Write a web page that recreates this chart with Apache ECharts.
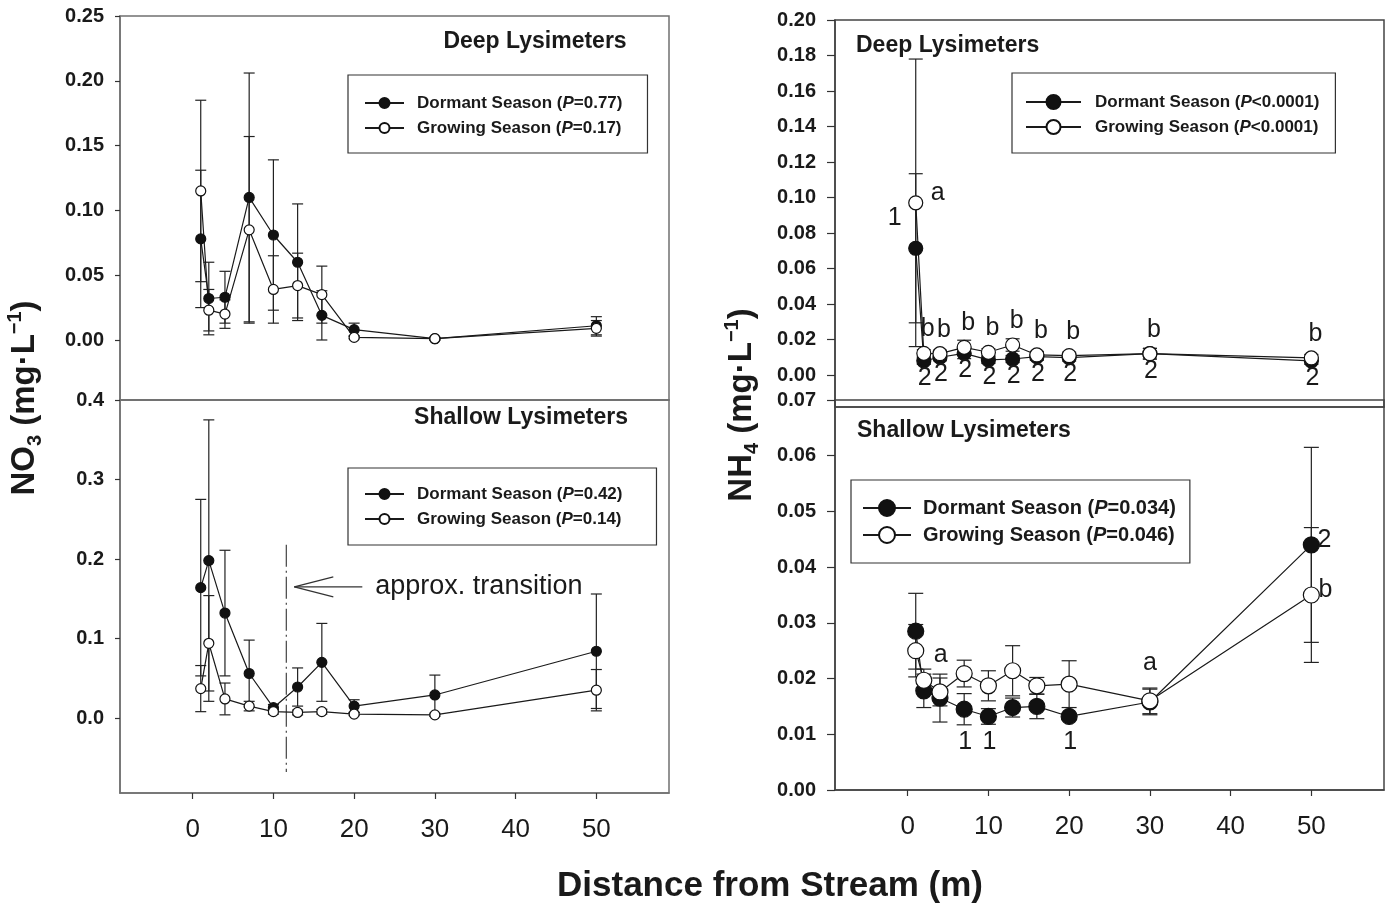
<!DOCTYPE html>
<html><head><meta charset="utf-8">
<script src="https://cdn.jsdelivr.net/npm/echarts@6/dist/echarts.min.js"></script>
<style>html,body{margin:0;padding:0;background:#fff}#c{width:1387px;height:909px}</style>
</head><body><div id="c"></div>
<script>
// ---------- data ----------
const distance = [1, 2, 4, 7, 10, 13, 16, 20, 30, 50];
const xTicks = [0, 10, 20, 30, 40, 50];
const no3DeepTicks = [0, 0.05, 0.10, 0.15, 0.20, 0.25];
const no3ShallowTicks = [0, 0.1, 0.2, 0.3, 0.4];
const nh4DeepTicks = [0, 0.02, 0.04, 0.06, 0.08, 0.10, 0.12, 0.14, 0.16, 0.18, 0.20];
const nh4ShallowTicks = [0, 0.01, 0.02, 0.03, 0.04, 0.05, 0.06, 0.07];

const no3DeepDormant    = [0.078, 0.032, 0.033, 0.110, 0.081, 0.060, 0.019, 0.008, 0.001, 0.011];
const no3DeepDormantSE  = [0.053, 0.028, 0.020, 0.096, 0.058, 0.045, 0.019, 0.005, 0.001, 0.007];
const no3DeepGrowing    = [0.115, 0.023, 0.020, 0.085, 0.039, 0.042, 0.035, 0.002, 0.001, 0.009];
const no3DeepGrowingSE  = [0.070, 0.016, 0.011, 0.072, 0.026, 0.025, 0.022, 0.001, 0.001, 0.006];

const no3ShallowDormant   = [0.164, 0.198, 0.132, 0.056, 0.013, 0.039, 0.070, 0.015, 0.029, 0.084];
const no3ShallowDormantSE = [0.111, 0.177, 0.079, 0.042, 0.004, 0.024, 0.049, 0.008, 0.025, 0.072];
const no3ShallowGrowing   = [0.037, 0.094, 0.024, 0.015, 0.008, 0.007, 0.008, 0.005, 0.004, 0.035];
const no3ShallowGrowingSE = [0.029, 0.060, 0.020, 0.006, 0.003, 0.003, 0.003, 0.002, 0.002, 0.026];

const nh4DeepDormant    = [0.0714, 0.0080, 0.0100, 0.0122, 0.0085, 0.0090, 0.0103, 0.0098, 0.0120, 0.0080];
const nh4DeepDormantSE  = [0.0420, 0.0020, 0.0020, 0.0030, 0.0020, 0.0020, 0.0020, 0.0020, 0.0030, 0.0020];
const nh4DeepGrowing    = [0.0970, 0.0122, 0.0120, 0.0156, 0.0128, 0.0169, 0.0113, 0.0109, 0.0120, 0.0096];
const nh4DeepGrowingSE  = [0.0810, 0.0020, 0.0020, 0.0040, 0.0020, 0.0035, 0.0020, 0.0020, 0.0030, 0.0020];

const nh4ShallowDormant   = [0.0285, 0.0178, 0.0165, 0.0145, 0.0132, 0.0148, 0.0150, 0.0132, 0.0158, 0.0440];
const nh4ShallowDormantSE = [0.0068, 0.0030, 0.0043, 0.0028, 0.0014, 0.0017, 0.0022, 0.0005, 0.0023, 0.0175];
const nh4ShallowGrowing   = [0.0250, 0.0197, 0.0176, 0.0209, 0.0187, 0.0214, 0.0187, 0.0190, 0.0160, 0.0350];
const nh4ShallowGrowingSE = [0.0047, 0.0020, 0.0025, 0.0024, 0.0027, 0.0045, 0.0015, 0.0042, 0.0023, 0.0121];

const nh4DeepGrowingLetters    = ['a', 'b', 'b', 'b', 'b', 'b', 'b', 'b', 'b', 'b'];
const nh4DeepDormantLetters    = ['1', '2', '2', '2', '2', '2', '2', '2', '2', '2'];
const nh4ShallowGrowingLetters = ['', 'a', '', '', '', '', '', '', 'a', 'b'];
const nh4ShallowDormantLetters = ['', '', '', '1', '1', '', '', '1', '', '2'];

// approximate transition (m) and annotation extent
const transitionX = 11.6;
const transitionSpan = [0.218, -0.068];
const transitionArrowY = 0.165;

// ---------- styling ----------
const FONT = "'Liberation Sans', Arial, Helvetica, sans-serif";
const INK = '#1a1a1a';
const chart = echarts.init(document.getElementById('c'), null, {renderer: 'canvas'});

const deepGrowingOffsets = nh4DeepGrowingLetters.map((l, i) => i === 0 ? [22, -10] : [4, -24]);
const deepDormantOffsets = nh4DeepDormantLetters.map((l, i) => i === 0 ? [-21, -30] : [1, 17]);
const shallowGrowingOffsets = [[0,0],[17,-25],[0,0],[0,0],[0,0],[0,0],[0,0],[0,0],[0,-38],[14,-5]];
const shallowDormantOffsets = [[0,0],[0,0],[0,0],[1,33],[1,26],[0,0],[0,0],[1,26],[0,0],[13,-5]];

function errSeries(ax, ys, se, cap, color) {
  return {
    type: 'custom', xAxisIndex: ax, yAxisIndex: ax, z: 1, silent: true, animation: false,
    data: distance.map((x, i) => [x, ys[i], se[i]]),
    renderItem(params, api) {
      const x = api.value(0), y = api.value(1), e = api.value(2);
      const t = api.coord([x, y + e]), b = api.coord([x, y - e]);
      const st = {stroke: color, lineWidth: 1.2};
      return {type: 'group', children: [
        {type: 'line', shape: {x1: t[0], y1: t[1], x2: b[0], y2: b[1]}, style: st},
        {type: 'line', shape: {x1: t[0] - cap, y1: t[1], x2: t[0] + cap, y2: t[1]}, style: st},
        {type: 'line', shape: {x1: b[0] - cap, y1: b[1], x2: b[0] + cap, y2: b[1]}, style: st}
      ]};
    }
  };
}

function lineSeries(name, ax, ys, filled, size, letters, offsets) {
  return {
    type: 'line', name, xAxisIndex: ax, yAxisIndex: ax, z: 3, animation: false,
    data: distance.map((x, i) => {
      const item = {value: [x, ys[i]]};
      if (letters && letters[i]) item.label = {show: true, formatter: letters[i], offset: offsets[i]};
      return item;
    }),
    symbol: 'circle', symbolSize: size, showSymbol: true, showAllSymbol: true,
    lineStyle: {color: INK, width: 1.2},
    itemStyle: {color: filled ? '#111' : '#fff', borderColor: '#111', borderWidth: 1.2},
    label: {show: false, position: 'inside', fontFamily: FONT, fontSize: 25, color: INK},
    emphasis: {disabled: true}
  };
}

function legend(names, left, top, pad, itemWidth, itemHeight, fontSize, lineHeight, gap, spacer) {
  const base = {fontFamily: FONT, fontSize, fontWeight: 'bold', color: INK, lineHeight};
  return {
    orient: 'vertical', left, top, padding: pad, itemGap: gap, itemWidth, itemHeight,
    data: names, borderColor: '#333', borderWidth: 1.2, selectedMode: false,
    formatter: n => { const m = n.match(/^(.*\()P(.*)$/); return '{f|' + m[1] + '}{i|P}{b|' + m[2] + '}'; },
    textStyle: Object.assign({}, base, {rich: {
      f: Object.assign({}, base, {padding: [0, 0, 0, spacer]}),
      i: Object.assign({}, base, {fontStyle: 'italic'}),
      b: Object.assign({}, base)
    }})
  };
}

function yAxis(grid, min, max, ticks, digits, color, tickLen, margin, fs) {
  return {
    type: 'value', gridIndex: grid, min, max,
    axisLine: {show: true, onZero: false, lineStyle: {color, width: 1.5}},
    axisTick: {show: true, inside: false, length: tickLen, customValues: ticks, lineStyle: {color: '#333', width: 1.2}},
    axisLabel: {show: true, customValues: ticks, margin, formatter: v => v.toFixed(digits),
      fontFamily: FONT, fontSize: fs, fontWeight: 'bold', color: INK},
    splitLine: {show: false}
  };
}

function xAxis(grid, showLabels, color) {
  return {
    type: 'value', gridIndex: grid, min: -9, max: 59,
    axisLine: {show: true, onZero: false, lineStyle: {color, width: 1.5}},
    axisTick: {show: showLabels, inside: false, length: 6, customValues: xTicks, lineStyle: {color: '#333', width: 1.2}},
    axisLabel: {show: showLabels, customValues: xTicks, margin: 24, fontFamily: FONT, fontSize: 26, color: INK},
    splitLine: {show: false}
  };
}

const gridStyle = (left, top, width, height, color) =>
  ({left, top, width, height, show: true, borderColor: color, borderWidth: 1.5, backgroundColor: 'transparent', containLabel: false});

const LGRAY = '#707070', RGRAY = '#444';

const transitionSeries = {
  type: 'custom', xAxisIndex: 1, yAxisIndex: 1, z: 2, silent: true, animation: false,
  data: [[transitionX, transitionSpan[0], transitionSpan[1], transitionArrowY]],
  renderItem(params, api) {
    const x = api.value(0);
    const t = api.coord([x, api.value(1)]), b = api.coord([x, api.value(2)]);
    const a = api.coord([x, api.value(3)]);
    const tipX = a[0] + 8, y = a[1];
    const st = {stroke: '#333', lineWidth: 1.2};
    return {type: 'group', children: [
      {type: 'line', shape: {x1: t[0], y1: t[1], x2: b[0], y2: b[1]}, style: {stroke: '#444', lineWidth: 1.2, lineDash: [22, 4, 2, 4]}},
      {type: 'line', shape: {x1: tipX, y1: y, x2: tipX + 68, y2: y}, style: st},
      {type: 'line', shape: {x1: tipX, y1: y, x2: tipX + 39, y2: y - 10}, style: st},
      {type: 'line', shape: {x1: tipX, y1: y, x2: tipX + 39, y2: y + 10}, style: st},
      {type: 'text', x: tipX + 81, y: y, style: {text: 'approx. transition', font: '27px ' + FONT, fill: INK,
        textAlign: 'left', textVerticalAlign: 'middle', align: 'left', verticalAlign: 'middle'}}
    ]};
  }
};

const titleText = (x, y, text, align) => ({type: 'text', x, y, silent: true,
  style: {text, font: 'bold 23px ' + FONT, fill: INK, textAlign: align, textVerticalAlign: 'middle', align, verticalAlign: 'middle'}});

const richName = {
  a: {fontFamily: FONT, fontSize: 33, fontWeight: 'bold', fill: INK, color: INK, lineHeight: 40},
  s: {fontFamily: FONT, fontSize: 20, fontWeight: 'bold', fill: INK, color: INK, lineHeight: 19, verticalAlign: 'bottom'},
  p: {fontFamily: FONT, fontSize: 20, fontWeight: 'bold', fill: INK, color: INK, lineHeight: 19, verticalAlign: 'top'}
};
const yName = (x, y, chem, sub) => ({type: 'text', x, y, rotation: Math.PI / 2, silent: true,
  style: {text: '{a|' + chem + '}{s|' + sub + '}{a| (mg·L}{p|−1}{a|)}', rich: richName,
    textAlign: 'center', textVerticalAlign: 'middle', align: 'center', verticalAlign: 'middle'}});

const option = {
  backgroundColor: '#fff',
  animation: false,
  grid: [
    gridStyle(120, 16, 549, 384, LGRAY),
    gridStyle(120, 400, 549, 393, LGRAY),
    gridStyle(835, 20, 549, 387, RGRAY),
    gridStyle(835, 400, 549, 390, RGRAY)
  ],
  xAxis: [xAxis(0, false, LGRAY), xAxis(1, true, LGRAY), xAxis(2, false, RGRAY), xAxis(3, true, RGRAY)],
  yAxis: [
    yAxis(0, -0.0463, 0.25, no3DeepTicks, 2, LGRAY, 5, 16, 20),
    yAxis(1, -0.0943, 0.4, no3ShallowTicks, 1, LGRAY, 5, 16, 20),
    yAxis(2, -0.01803, 0.20, nh4DeepTicks, 2, RGRAY, 8, 19, 20),
    yAxis(3, 0, 0.07, nh4ShallowTicks, 2, RGRAY, 8, 19, 20)
  ],
  legend: [
    legend(['Dormant Season (P=0.77)', 'Growing Season (P=0.17)'], 348, 75, [18, 25, 15, 16], 39, 12.5, 17, 20, 5, 8),
    legend(['Dormant Season (P=0.42)', 'Growing Season (P=0.14)'], 348, 468, [16, 34, 16, 16], 39, 12.5, 17, 20, 5, 8),
    legend(['Dormant Season (P<0.0001)', 'Growing Season (P<0.0001)'], 1012, 73, [19, 16, 16, 13], 55, 17.5, 17, 20, 5, 9),
    legend(['Dormant Season (P=0.034)', 'Growing Season (P=0.046)'], 851, 480, [17, 14, 17, 11], 48, 20, 20, 22, 5, 7)
  ],
  series: [
    errSeries(0, no3DeepDormant, no3DeepDormantSE, 5.5, '#222'),
    errSeries(0, no3DeepGrowing, no3DeepGrowingSE, 5.5, '#222'),
    lineSeries('Dormant Season (P=0.77)', 0, no3DeepDormant, true, 10),
    lineSeries('Growing Season (P=0.17)', 0, no3DeepGrowing, false, 10),

    errSeries(1, no3ShallowDormant, no3ShallowDormantSE, 5.5, '#222'),
    errSeries(1, no3ShallowGrowing, no3ShallowGrowingSE, 5.5, '#222'),
    lineSeries('Dormant Season (P=0.42)', 1, no3ShallowDormant, true, 10),
    lineSeries('Growing Season (P=0.14)', 1, no3ShallowGrowing, false, 10),
    transitionSeries,

    errSeries(2, nh4DeepDormant, nh4DeepDormantSE, 7, '#222'),
    errSeries(2, nh4DeepGrowing, nh4DeepGrowingSE, 7, '#222'),
    lineSeries('Dormant Season (P<0.0001)', 2, nh4DeepDormant, true, 14, nh4DeepDormantLetters, deepDormantOffsets),
    lineSeries('Growing Season (P<0.0001)', 2, nh4DeepGrowing, false, 14, nh4DeepGrowingLetters, deepGrowingOffsets),

    errSeries(3, nh4ShallowDormant, nh4ShallowDormantSE, 7.5, '#222'),
    errSeries(3, nh4ShallowGrowing, nh4ShallowGrowingSE, 7.5, '#222'),
    lineSeries('Dormant Season (P=0.034)', 3, nh4ShallowDormant, true, 16, nh4ShallowDormantLetters, shallowDormantOffsets),
    lineSeries('Growing Season (P=0.046)', 3, nh4ShallowGrowing, false, 16, nh4ShallowGrowingLetters, shallowGrowingOffsets)
  ],
  graphic: [
    titleText(535, 42, 'Deep Lysimeters', 'center'),
    titleText(521, 418, 'Shallow Lysimeters', 'center'),
    titleText(856, 46, 'Deep Lysimeters', 'left'),
    titleText(857, 431, 'Shallow Lysimeters', 'left'),
    yName(25, 398, 'NO', '3'),
    yName(742, 405, 'NH', '4'),
    {type: 'text', x: 770, y: 886, silent: true,
      style: {text: 'Distance from Stream (m)', font: 'bold 35px ' + FONT, fill: INK,
        textAlign: 'center', textVerticalAlign: 'middle', align: 'center', verticalAlign: 'middle'}}
  ]
};
chart.setOption(option);
</script>
</body></html>
